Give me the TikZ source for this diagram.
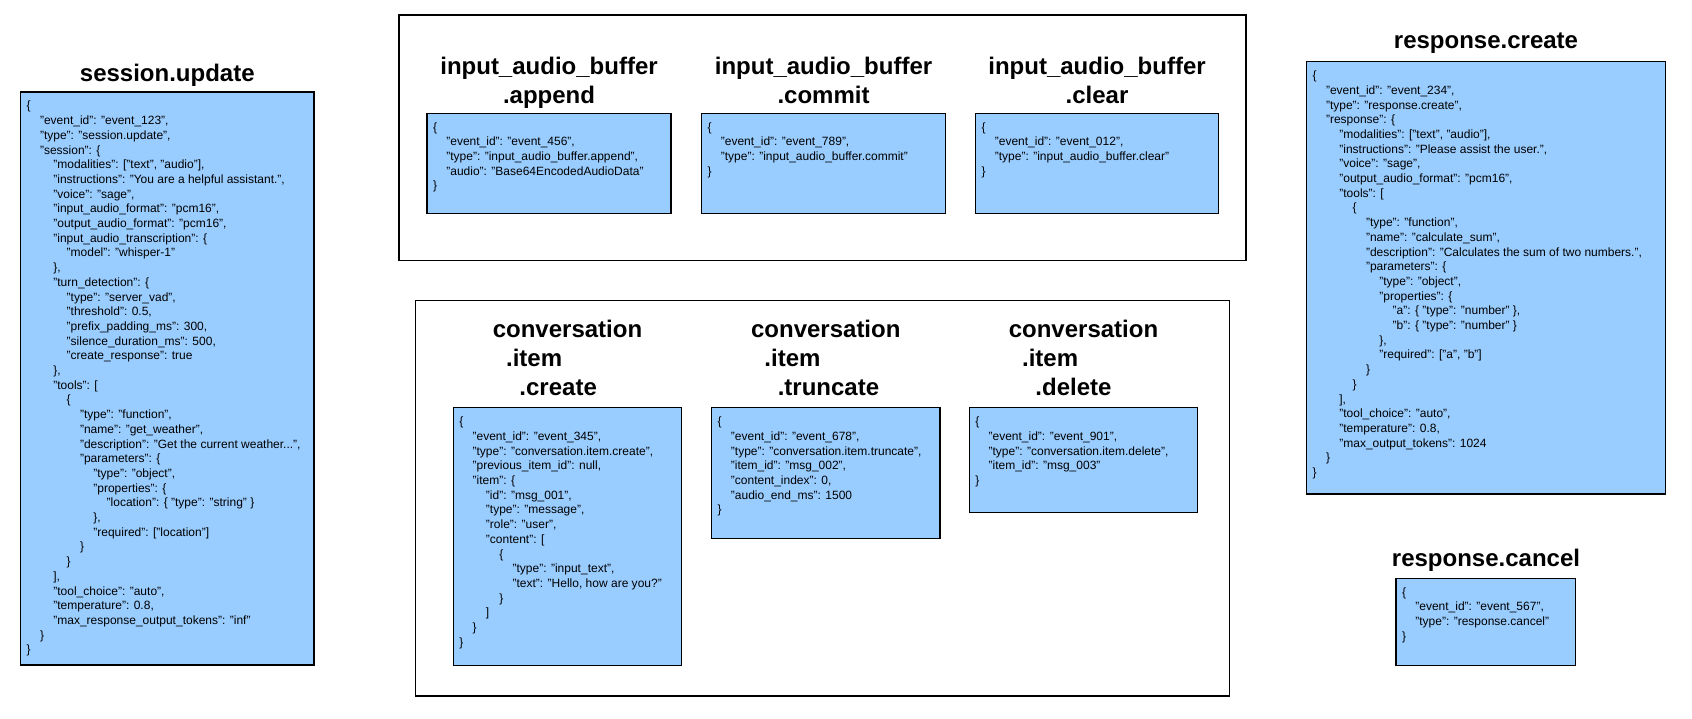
\documentclass[tikz,border=0pt]{standalone}
\usepackage{fontspec}
\setmainfont{Liberation Sans}
\definecolor{evblue}{HTML}{99CCFF}
% one JSON level is four spaces wide
\newlength{\jsindent}
\setlength{\jsindent}{13.33pt}
\newcommand{\jin}[1]{\hspace*{#1\jsindent}}
\begin{document}
\begin{tikzpicture}[x=1pt, y=-1pt,
  panel/.style={draw=black, line width=1.2pt},
  evbox/.style={draw=black, fill=evblue, line width=1.2pt},
  evtitle/.style={anchor=north, inner sep=0pt, align=center, font=\fontsize{24}{29}\selectfont\bfseries},
  evjson/.style={anchor=north west, inner sep=0pt, align=left, font=\fontsize{12}{14.7}\selectfont}]
% Set the page size (one unit is one pixel, y runs down)
\useasboundingbox (0,0) rectangle (1692,718);

% session.update on the left
\draw[evbox] (20.7,92) rectangle (314,665);
\node[evtitle] (sesstitle) at (167.3,63.5) {session.update};
\node[evjson] (sessjson) at (26.5,101) {\{\\
\jin{1}"event\_id": "event\_123",\\
\jin{1}"type": "session.update",\\
\jin{1}"session": \{\\
\jin{2}"modalities": ["text", "audio"],\\
\jin{2}"instructions": "You are a helpful assistant.",\\
\jin{2}"voice": "sage",\\
\jin{2}"input\_audio\_format": "pcm16",\\
\jin{2}"output\_audio\_format": "pcm16",\\
\jin{2}"input\_audio\_transcription": \{\\
\jin{3}"model": "whisper-1"\\
\jin{2}\},\\
\jin{2}"turn\_detection": \{\\
\jin{3}"type": "server\_vad",\\
\jin{3}"threshold": 0.5,\\
\jin{3}"prefix\_padding\_ms": 300,\\
\jin{3}"silence\_duration\_ms": 500,\\
\jin{3}"create\_response": true\\
\jin{2}\},\\
\jin{2}"tools": [\\
\jin{3}\{\\
\jin{4}"type": "function",\\
\jin{4}"name": "get\_weather",\\
\jin{4}"description": "Get the current weather...",\\
\jin{4}"parameters": \{\\
\jin{5}"type": "object",\\
\jin{5}"properties": \{\\
\jin{6}"location": \{ "type": "string" \}\\
\jin{5}\},\\
\jin{5}"required": ["location"]\\
\jin{4}\}\\
\jin{3}\}\\
\jin{2}],\\
\jin{2}"tool\_choice": "auto",\\
\jin{2}"temperature": 0.8,\\
\jin{2}"max\_response\_output\_tokens": "inf"\\
\jin{1}\}\\
\}};

% Draw the input_audio_buffer panel and its three events
\draw[panel] (399,15) rectangle (1246,260.5);
\draw[evbox] (427,113.3) rectangle (671,213.3);
\node[evtitle] (appendtitle) at (549,56.8) {input\_audio\_buffer\\.append};
\node[evjson] (appendjson) at (432.8,122.3) {\{\\
\jin{1}"event\_id": "event\_456",\\
\jin{1}"type": "input\_audio\_buffer.append",\\
\jin{1}"audio": "Base64EncodedAudioData"\\
\}};
\draw[evbox] (701.5,113.3) rectangle (945.5,213.3);
\node[evtitle] (committitle) at (823.5,56.8) {input\_audio\_buffer\\.commit};
\node[evjson] (commitjson) at (707.3,122.3) {\{\\
\jin{1}"event\_id": "event\_789",\\
\jin{1}"type": "input\_audio\_buffer.commit"\\
\}};
\draw[evbox] (975.5,113.3) rectangle (1218.5,213.3);
\node[evtitle] (cleartitle) at (1097,56.8) {input\_audio\_buffer\\.clear};
\node[evjson] (clearjson) at (981.3,122.3) {\{\\
\jin{1}"event\_id": "event\_012",\\
\jin{1}"type": "input\_audio\_buffer.clear"\\
\}};

% Draw the conversation.item panel and its three events
\draw[panel] (415.5,300.7) rectangle (1229.3,696);
\draw[evbox] (453.3,407.8) rectangle (681.7,665.3);
\node[evtitle, align=left] (createtitle) at (567.5,319.5) {conversation\\\jin{1}.item\\\jin{2}.create};
\node[evjson] (createjson) at (459.1,416.8) {\{\\
\jin{1}"event\_id": "event\_345",\\
\jin{1}"type": "conversation.item.create",\\
\jin{1}"previous\_item\_id": null,\\
\jin{1}"item": \{\\
\jin{2}"id": "msg\_001",\\
\jin{2}"type": "message",\\
\jin{2}"role": "user",\\
\jin{2}"content": [\\
\jin{3}\{\\
\jin{4}"type": "input\_text",\\
\jin{4}"text": "Hello, how are you?"\\
\jin{3}\}\\
\jin{2}]\\
\jin{1}\}\\
\}};
\draw[evbox] (711.6,407.8) rectangle (940,538.6);
\node[evtitle, align=left] (truncatetitle) at (825.8,319.5) {conversation\\\jin{1}.item\\\jin{2}.truncate};
\node[evjson] (truncatejson) at (717.4,416.8) {\{\\
\jin{1}"event\_id": "event\_678",\\
\jin{1}"type": "conversation.item.truncate",\\
\jin{1}"item\_id": "msg\_002",\\
\jin{1}"content\_index": 0,\\
\jin{1}"audio\_end\_ms": 1500\\
\}};
\draw[evbox] (969.3,407.8) rectangle (1197.7,512.5);
\node[evtitle, align=left] (deletetitle) at (1083.5,319.5) {conversation\\\jin{1}.item\\\jin{2}.delete};
\node[evjson] (deletejson) at (975.1,416.8) {\{\\
\jin{1}"event\_id": "event\_901",\\
\jin{1}"type": "conversation.item.delete",\\
\jin{1}"item\_id": "msg\_003"\\
\}};

% response events on the right
\draw[evbox] (1306.7,61.7) rectangle (1665.5,494);
\node[evtitle] (resptitle) at (1486,32.8) {response.create};
\node[evjson] (respjson) at (1312.5,70.7) {\{\\
\jin{1}"event\_id": "event\_234",\\
\jin{1}"type": "response.create",\\
\jin{1}"response": \{\\
\jin{2}"modalities": ["text", "audio"],\\
\jin{2}"instructions": "Please assist the user.",\\
\jin{2}"voice": "sage",\\
\jin{2}"output\_audio\_format": "pcm16",\\
\jin{2}"tools": [\\
\jin{3}\{\\
\jin{4}"type": "function",\\
\jin{4}"name": "calculate\_sum",\\
\jin{4}"description": "Calculates the sum of two numbers.",\\
\jin{4}"parameters": \{\\
\jin{5}"type": "object",\\
\jin{5}"properties": \{\\
\jin{6}"a": \{ "type": "number" \},\\
\jin{6}"b": \{ "type": "number" \}\\
\jin{5}\},\\
\jin{5}"required": ["a", "b"]\\
\jin{4}\}\\
\jin{3}\}\\
\jin{2}],\\
\jin{2}"tool\_choice": "auto",\\
\jin{2}"temperature": 0.8,\\
\jin{2}"max\_output\_tokens": 1024\\
\jin{1}\}\\
\}};
\draw[evbox] (1396,578.3) rectangle (1575.7,665.7);
\node[evtitle] (canceltitle) at (1486,549.3) {response.cancel};
\node[evjson] (canceljson) at (1401.8,587.3) {\{\\
\jin{1}"event\_id": "event\_567",\\
\jin{1}"type": "response.cancel"\\
\}};
\end{tikzpicture}
\end{document}
